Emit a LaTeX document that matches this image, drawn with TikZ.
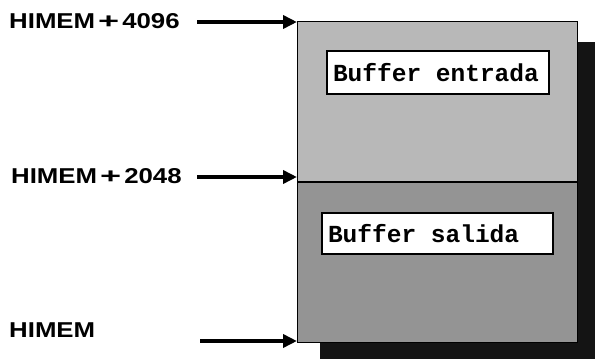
\documentclass[tikz,border=0pt]{standalone}
\usepackage{fontspec}
\usepackage{graphicx}
\usetikzlibrary{arrows.meta}
\newfontfamily\labfont[FakeStretch=1.2]{Liberation Sans}
\newfontfamily\bufont{Liberation Mono}
\tikzset{
  region/.style={draw=black, line width=1.4pt, inner sep=0pt, anchor=north west, minimum width=280pt},
  bufbox/.style={draw=black, line width=1.4pt, fill=white, inner xsep=6pt, inner ysep=0pt,
    align=left, font=\bufont\bfseries\fontsize{24.5}{24.5}\selectfont},
  lab/.style={anchor=west, inner sep=0pt, font=\labfont\bfseries\fontsize{21.5}{21.5}\selectfont},
  arr/.style={line width=4pt, -{Triangle[length=14pt,width=13pt]}}
}
\newcommand{\plussign}{\hspace{3pt}\scalebox{1.4}[1]{+}\hspace{3pt}}
\begin{document}
\begin{tikzpicture}[x=1pt,y=-1pt]
\useasboundingbox (0,0) rectangle (595,359);
% shadow
\fill[black!92] (320,42) rectangle (595,359);
% memory regions
\node[region, fill=black!28, minimum height=160pt] (up) at (297,20.5) {};
\node[region, fill=black!42, minimum height=160pt] (low) at (up.south west) {};
% buffers
\node[bufbox, text width=210pt, minimum height=43pt] (be) at (438,72.5) {Buffer\hspace{0.6em}entrada};
\node[bufbox, text width=219pt, minimum height=41pt] (bs) at (437.5,233.5) {Buffer\hspace{0.6em}salida};
% labels
\node[lab] (l1) at (9,21) {HIMEM\plussign 4096};
\node[lab] (l2) at (11,176.5) {HIMEM\plussign 2048};
\node[lab] (l3) at (9,330) {HIMEM};
% arrows
\coordinate (s1) at (197,22);
\coordinate (s2) at (197,177);
\coordinate (s3) at (200,341);
\draw[arr] (s1) -- (s1 -| up.west);
\draw[arr] (s2) -- (s2 -| up.west);
\draw[arr] (s3) -- (s3 -| low.west);
\end{tikzpicture}
\end{document}
